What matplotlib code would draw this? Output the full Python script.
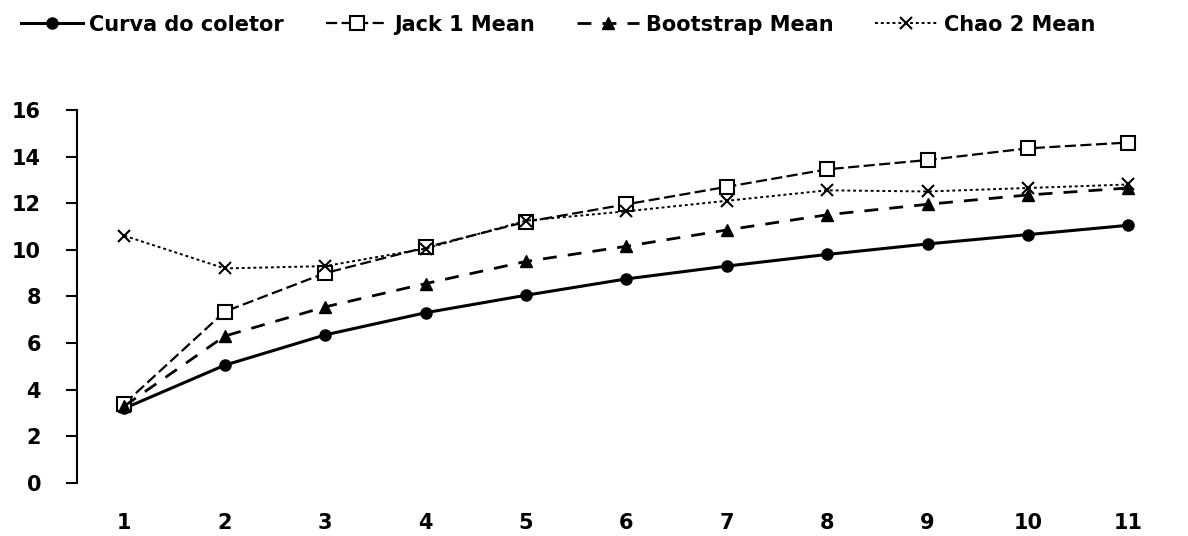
import matplotlib
matplotlib.use("Agg")
import matplotlib.pyplot as plt

samples = [1, 2, 3, 4, 5, 6, 7, 8, 9, 10, 11]
curva = [3.2, 5.05, 6.35, 7.3, 8.05, 8.75, 9.3, 9.8, 10.25, 10.65, 11.05]
jack1 = [3.4, 7.35, 9.0, 10.1, 11.2, 11.95, 12.7, 13.45, 13.85, 14.35, 14.6]
bootstrap = [3.3, 6.3, 7.55, 8.55, 9.5, 10.15, 10.85, 11.5, 11.95, 12.35, 12.65]
chao2 = [10.6, 9.2, 9.3, 10.05, 11.25, 11.65, 12.1, 12.55, 12.5, 12.65, 12.8]
labels = ["Curva do coletor", "Jack 1 Mean", "Bootstrap Mean", "Chao 2 Mean"]
yticks = [0, 2, 4, 6, 8, 10, 12, 14, 16]

fig = plt.figure(figsize=(11.88, 5.36), dpi=100)
ax = fig.add_axes([0.065, 0.099, 0.927, 0.696])

ax.plot(samples, curva, color="black", lw=2.2, ls="-", marker="o", ms=8, label=labels[0])
ax.plot(samples, jack1, color="black", lw=1.6, ls=(0, (5, 2)), marker="s", ms=10,
        mfc="white", mec="black", mew=1.5, label=labels[1])
ax.plot(samples, bootstrap, color="black", lw=2.0, ls=(0, (5, 4)), marker="^", ms=8, label=labels[2])
ax.plot(samples, chao2, color="black", lw=1.4, ls=(0, (1.5, 1.5)), marker="x", ms=8, mew=1.5, label=labels[3])

ax.set_xlim(0.53, 11.5)
ax.set_ylim(0, 16)
ax.set_yticks(yticks)
ax.set_xticks(samples)
for s in ["top", "right", "bottom"]:
    ax.spines[s].set_visible(False)
ax.spines["left"].set_linewidth(1.5)
ax.tick_params(axis="y", direction="out", length=8, width=1.5, pad=18)
ax.tick_params(axis="x", length=0, pad=22)
for lab in ax.get_xticklabels() + ax.get_yticklabels():
    lab.set_fontweight("bold")
    lab.set_fontsize(15)
    lab.set_fontfamily("DejaVu Sans")

fig.legend(loc="upper left", bbox_to_anchor=(0.005, 1.0), ncol=4, frameon=False,
           prop={"family": "DejaVu Sans", "size": 15, "weight": "bold"}, handlelength=3.0,
           handletextpad=0.3, columnspacing=2.0, borderaxespad=0.3)

fig.savefig("out.png", dpi=100)
